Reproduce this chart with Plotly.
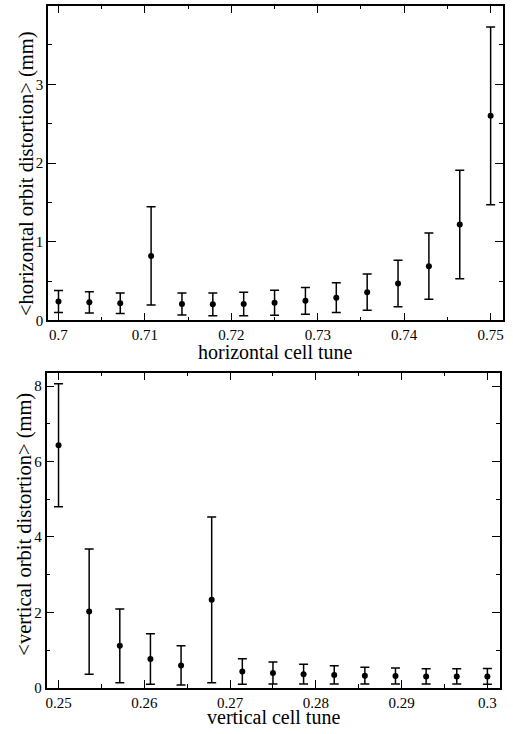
import plotly.graph_objects as go

# Top panel: horizontal cell tune
h_tune = [0.7, 0.7035714, 0.7071429, 0.7107143, 0.7142857, 0.7178571, 0.7214286, 0.725,
          0.7285714, 0.7321429, 0.7357143, 0.7392857, 0.7428571, 0.7464286, 0.75]
h_dist = [0.24, 0.23, 0.22, 0.82, 0.21, 0.205, 0.21, 0.225, 0.25, 0.29, 0.36, 0.47, 0.69, 1.22, 2.60]
h_err = [0.14, 0.135, 0.13, 0.625, 0.14, 0.145, 0.15, 0.16, 0.17, 0.19, 0.23, 0.295, 0.42, 0.69, 1.13]

# Bottom panel: vertical cell tune
v_tune = [0.25, 0.2535714, 0.2571429, 0.2607143, 0.2642857, 0.2678571, 0.2714286, 0.275,
          0.2785714, 0.2821429, 0.2857143, 0.2892857, 0.2928571, 0.2964286, 0.3]
v_dist = [6.43, 2.02, 1.11, 0.76, 0.59, 2.33, 0.43, 0.39, 0.36, 0.34, 0.32, 0.31, 0.30, 0.30, 0.30]
v_err = [1.63, 1.66, 0.98, 0.67, 0.52, 2.20, 0.34, 0.29, 0.26, 0.24, 0.22, 0.21, 0.20, 0.20, 0.21]

W, H = 513, 734
FONT = "Liberation Serif"

fig = go.Figure()
for xs, ys, es, xa, ya in [(h_tune, h_dist, h_err, "x", "y"), (v_tune, v_dist, v_err, "x2", "y2")]:
    fig.add_trace(go.Scatter(
        x=xs, y=ys, mode="markers", xaxis=xa, yaxis=ya,
        marker=dict(color="black", size=6),
        error_y=dict(type="data", array=es, visible=True, color="black", thickness=1.5, width=4.5),
        showlegend=False, cliponaxis=False, hoverinfo="skip",
    ))

def xd(l, r):
    return [l / W, r / W]

def yd(t, b):
    return [1 - b / H, 1 - t / H]

axcommon = dict(
    showgrid=False, zeroline=False, showline=True, linecolor="black", linewidth=1.6,
    mirror="allticks", ticks="inside", ticklen=8, tickwidth=1.2, tickcolor="black",
    tickfont=dict(family=FONT, size=15, color="black"),
)

fig.update_layout(
    width=W, height=H, margin=dict(l=0, r=0, t=0, b=0),
    paper_bgcolor="white", plot_bgcolor="white",
    font=dict(family=FONT, color="black"),
    xaxis=dict(domain=xd(47.3, 503.7), range=[0.6988, 0.7514], anchor="y",
               tickvals=[0.7, 0.71, 0.72, 0.73, 0.74, 0.75], ticktext=["0.7", "0.71", "0.72", "0.73", "0.74", "0.75"],
               minor=dict(dtick=0.005, tick0=0.7, ticks="inside", ticklen=4, tickcolor="black", tickwidth=1.2),
               ticklabeloverflow="allow",
               **axcommon),
    yaxis=dict(domain=yd(5.7, 324), range=[0, 4.0], anchor="x",
               tickvals=[0, 1, 2, 3], ticktext=["0", "1", "2", "3"],
               minor=dict(dtick=0.5, tick0=0, ticks="inside", ticklen=4, tickcolor="black", tickwidth=1.2),
               **axcommon),
    xaxis2=dict(domain=xd(45.7, 500.7), range=[0.2486, 0.30144], anchor="y2",
                tickvals=[0.25, 0.26, 0.27, 0.28, 0.29, 0.3], ticktext=["0.25", "0.26", "0.27", "0.28", "0.29", "0.3"],
                minor=dict(dtick=0.005, tick0=0.25, ticks="inside", ticklen=4, tickcolor="black", tickwidth=1.2),
                ticklabeloverflow="allow",
                **axcommon),
    yaxis2=dict(domain=yd(376.7, 695.3), range=[0, 8.357], anchor="x2",
                tickvals=[0, 2, 4, 6, 8], ticktext=["0", "2", "4", "6", "8"],
                minor=dict(dtick=1, tick0=0, ticks="inside", ticklen=4, tickcolor="black", tickwidth=1.2),
                **axcommon),
)

xtitlefont = dict(family=FONT, size=20, color="black")
ytitlefont = dict(family=FONT, size=20.5, color="black")
fig.add_annotation(text="horizontal cell tune", x=(47.3 + 503.7) / 2 / W, y=1 - 356 / H,
                   xref="paper", yref="paper", showarrow=False, font=xtitlefont, xanchor="center", yanchor="middle")
fig.add_annotation(text="vertical cell tune", x=(45.7 + 500.7) / 2 / W, y=1 - 725 / H,
                   xref="paper", yref="paper", showarrow=False, font=xtitlefont, xanchor="center", yanchor="middle")
fig.add_annotation(text="&lt;horizontal orbit distortion&gt; (mm)", x=25 / W, y=1 - 176 / H, textangle=-90,
                   xref="paper", yref="paper", showarrow=False, font=ytitlefont, xanchor="center", yanchor="middle")
fig.add_annotation(text="&lt;vertical orbit distortion&gt; (mm)", x=24 / W, y=1 - 529.5 / H, textangle=-90,
                   xref="paper", yref="paper", showarrow=False, font=ytitlefont, xanchor="center", yanchor="middle")

fig.write_html("out.html", config={"displayModeBar": False},
               post_script="document.body.style.margin='0px';")
